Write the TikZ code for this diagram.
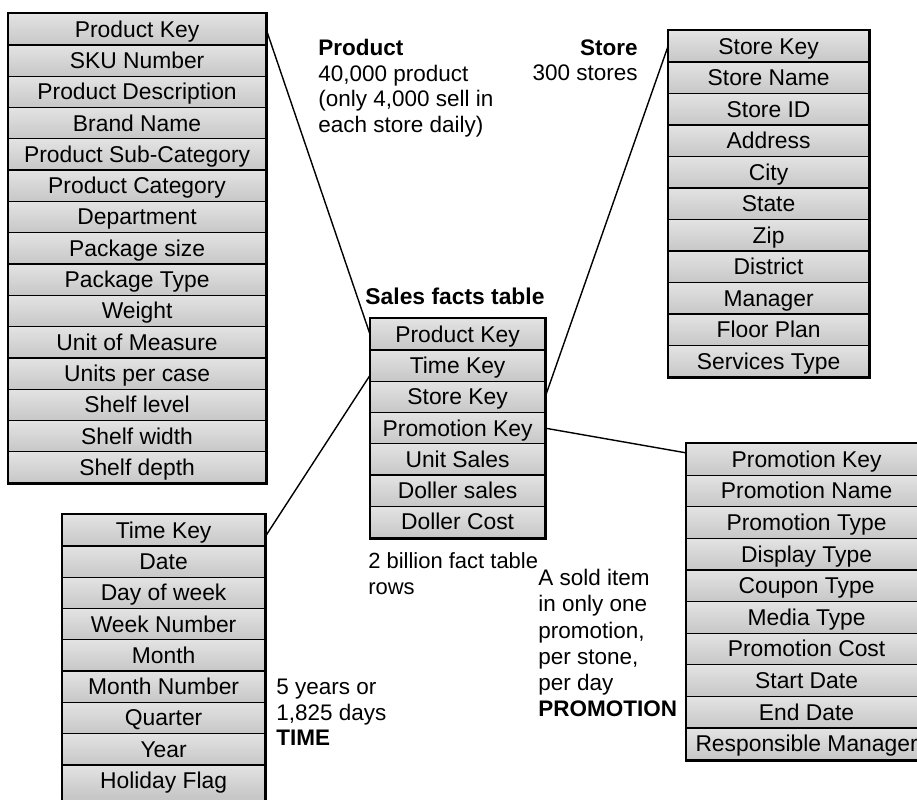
\documentclass[tikz,border=0pt]{standalone}
\usepackage{fontspec}
\setmainfont{Liberation Sans}
\usetikzlibrary{calc}

\tikzset{
  cell/.style={draw=black, line width=0.7pt, rectangle, inner sep=0pt,
    top color=black!11, bottom color=black!22,
    text height=9.4pt, text depth=0.4pt,
    font=\fontsize{13}{15}\selectfont, anchor=north west},
  tableframe/.style={draw=black, line width=1.6pt},
  link/.style={draw=black, line width=0.8pt},
  note/.style={inner sep=0pt, align=left, font=\fontsize{12.8}{14.5}\selectfont},
}

% #1 name prefix, #2 left x, #3 top y, #4 width (cm), #5 row height (px), #6 rows
\newcommand{\dimtab}[6]{%
  \foreach \lbl [count=\i] in {#6} {
    \node[cell, minimum width=#4cm, minimum height={#5*0.02cm}]
      (#1\i) at (#2, {#3+(\i-1)*#5}) {\lbl};
  }%
}

\begin{document}
\begin{tikzpicture}[x=0.02cm, y=-0.02cm]
  \useasboundingbox (0,0) rectangle (917,800);
  \fill[white] (0,0) rectangle (917,800);
  \clip (0,0) rectangle (917,800);

  % Product dimension
  \dimtab{p}{8}{13}{5.14}{31.3}{Product Key, SKU Number, Product Description,
    Brand Name, Product Sub-Category, Product Category, Department,
    Package size, Package Type, Weight, Unit of Measure, Units per case,
    Shelf level, Shelf width, Shelf depth}
  \draw[tableframe] (p1.north west) rectangle (p15.south east);

  % Fact table
  \dimtab{s}{370}{318}{3.48}{31.3}{Product Key, Time Key, Store Key,
    Promotion Key, Unit Sales, Doller sales, Doller Cost}
  \draw[tableframe] (s1.north west) rectangle (s7.south east);

  % Store dimension
  \dimtab{st}{668}{30}{4.0}{31.5}{Store Key, Store Name, Store ID, Address,
    City, State, Zip, District, Manager, Floor Plan, Services Type}
  \draw[tableframe] (st1.north west) rectangle (st11.south east);

  % Promotion dimension
  \dimtab{pr}{686}{443}{4.8}{31.6}{Promotion Key, Promotion Name,
    Promotion Type, Display Type, Coupon Type, Media Type, Promotion Cost,
    Start Date, End Date, Responsible Manager}
  \draw[tableframe] (pr1.north west) rectangle (pr10.south east);

  % Time dimension (last row runs past the lower edge)
  \dimtab{t}{62}{514}{4.04}{31.3}{Time Key, Date, Day of week, Week Number,
    Month, Month Number, Quarter, Year, Holiday Flag}
  \coordinate (tend) at ($(t9.south east)+(0,10)$);
  \fill[black!22] ($(t9.south west)+(0,-1)$) rectangle (tend);
  \draw[tableframe] (t1.north west) rectangle (tend);

  % Key links
  \draw[link] (p1.east) -- (s1.west);
  \draw[link] ($(t1.north east)!0.7!(t1.south east)$) -- ($(s2.west)!0.6!(s2.south west)$);
  \draw[link] (st1.west) -- (s3.east);
  \draw[link] (s4.east) -- ($(pr1.north west)!0.3!(pr1.south west)$);

  % Labels
  \node[inner sep=0pt, anchor=base, font=\fontsize{13}{15}\selectfont\bfseries]
    (salestitle) at (455,305) {Sales facts table};
  \node[note, anchor=north west] (prodnote) at (318,39)
    {\textbf{Product}\\40,000 product\\(only 4,000 sell in\\each store daily)};
  \node[note, align=right, anchor=north east] (storenote) at (638,39)
    {\textbf{Store}\\300 stores};
  \node[note, anchor=north west, font=\fontsize{12.5}{14.8}\selectfont] (rowsnote) at (368,552)
    {2 billion fact table\\rows};
  \node[note, anchor=north west, font=\fontsize{12.8}{14.9}\selectfont] (promonote) at (538,569)
    {A sold item\\in only one\\promotion,\\per stone,\\per day\\\textbf{PROMOTION}};
  \node[note, anchor=north west] (timenote) at (276,679)
    {5 years or\\1,825 days\\\textbf{TIME}};
\end{tikzpicture}
\end{document}
